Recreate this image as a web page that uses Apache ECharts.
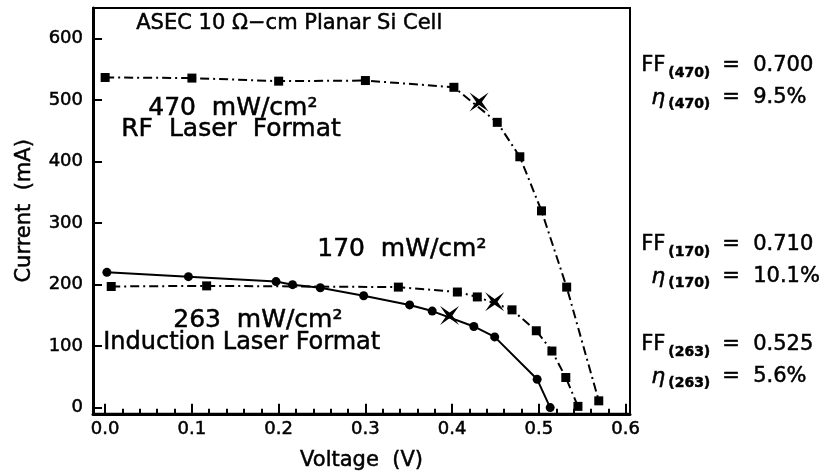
<!DOCTYPE html>
<html>
<head>
<meta charset="utf-8">
<script src="https://cdn.jsdelivr.net/npm/echarts@6/dist/echarts.min.js"></script>
<style>
  html, body { margin: 0; padding: 0; background: #fff; }
  #chart { width: 835px; height: 476px; }
</style>
</head>
<body>
<div id="chart"></div>
<script>
// 470 mW/cm2, RF laser format
const volt470 = [0.0, 0.1, 0.2, 0.3, 0.402, 0.452, 0.478, 0.503, 0.532, 0.569];
const curr470 = [537, 536, 531, 532, 521, 464, 408, 320, 196, 11];
// 170 mW/cm2
const volt170 = [0.007, 0.117, 0.338, 0.406, 0.429, 0.469, 0.497, 0.515, 0.531, 0.545];
const curr170 = [197, 198, 196, 188, 180, 159, 125, 92, 49, 2];
// 263 mW/cm2, induction laser format
const volt263 = [0.002, 0.096, 0.197, 0.216, 0.248, 0.298, 0.351, 0.377, 0.425, 0.449, 0.498, 0.513];
const curr263 = [220, 213, 205, 200, 195, 182, 167, 157, 132, 115, 46, 0];
// max power points (X marks)
const mppVolt = [0.431, 0.449, 0.397];
const mppCurr = [497, 172, 150];

const xTicks = [0, 0.1, 0.2, 0.3, 0.4, 0.5, 0.6];
const yTicks = [0, 100, 200, 300, 400, 500, 600];
const xMinorTicks = [];
for (let i = 0; i <= 30; i++) xMinorTicks.push(+(i * 0.02).toFixed(2));

const results = [
  { tag: '(470)', ff: '0.700', eta: '9.5%', y: 68 },
  { tag: '(170)', ff: '0.710', eta: '10.1%', y: 247 },
  { tag: '(263)', ff: '0.525', eta: '5.6%', y: 347 },
];

const FONT = 'DejaVu Sans';
const zip = (xs, ys) => xs.map((x, i) => [x, ys[i]]);
const dashDot = [9, 4, 2, 4];
const xMark = 'path://M0,0 L10,7 L20,0 L13,10 L20,20 L10,13 L0,20 L7,10 Z';
// thicken glyphs a little, the original is a plotter font
const ink = { textBorderColor: '#000', textBorderWidth: 0.5 };

const txt = (x, y, text, size, extra) => ({
  type: 'text', left: x, top: y,
  style: Object.assign({
    text, fontSize: size, fontFamily: FONT, fill: '#000', stroke: '#000', lineWidth: 0.5,
  }, extra || {}),
});

const graphics = [
  txt(136, 13, 'ASEC 10 Ω−cm Planar Si Cell', 21),
  txt(148, 96, '470  mW/cm²', 25),
  txt(121, 117, 'RF  Laser  Format', 25),
  txt(317, 237, '170  mW/cm²', 25),
  txt(173, 308, '263  mW/cm²', 25),
  txt(103, 331, 'Induction Laser Format', 24),
];
results.forEach((r) => {
  graphics.push(txt(641, r.y - 13, 'FF', 21));
  graphics.push(txt(668, r.y - 2, r.tag, 14, { fontWeight: 'bold' }));
  graphics.push(txt(722, r.y - 13, '=  ' + r.ff, 21));
  graphics.push(txt(651, r.y + 19, 'η', 22, { fontStyle: 'italic' }));
  graphics.push(txt(668, r.y + 29, r.tag, 14, { fontWeight: 'bold' }));
  graphics.push(txt(722, r.y + 19, '=  ' + r.eta, 21));
});

const chart = echarts.init(document.getElementById('chart'));
chart.setOption({
  animation: false,
  backgroundColor: '#fff',
  grid: {
    left: 93, right: 205, top: 8, bottom: 60,
    show: true, borderColor: '#000', borderWidth: 2,
  },
  xAxis: [
    {
      type: 'value', min: -0.014, max: 0.605,
      name: 'Voltage  (V)', nameLocation: 'middle', nameGap: 36,
      nameTextStyle: Object.assign({ fontSize: 21, fontFamily: FONT, color: '#000' }, ink),
      axisLine: { onZero: false, lineStyle: { color: '#000', width: 3 } },
      axisTick: { inside: true, length: 10, lineStyle: { color: '#000', width: 2 }, customValues: xTicks },
      axisLabel: Object.assign({
        customValues: xTicks, formatter: (v) => v.toFixed(1), margin: 7,
        fontSize: 18, fontFamily: FONT, color: '#000',
      }, ink),
      splitLine: { show: false },
    },
    {
      type: 'value', min: -0.014, max: 0.605, position: 'bottom',
      axisLine: { show: false, onZero: false },
      axisTick: { inside: true, length: 5, lineStyle: { color: '#000', width: 2 }, customValues: xMinorTicks },
      axisLabel: { show: false },
      splitLine: { show: false },
    },
  ],
  yAxis: {
    type: 'value', min: -10, max: 650,
    name: 'Current  (mA)', nameLocation: 'middle', nameGap: 58,
    nameTextStyle: Object.assign({ fontSize: 21, fontFamily: FONT, color: '#000' }, ink),
    axisLine: { onZero: false, lineStyle: { color: '#000', width: 3 } },
    axisTick: { inside: true, length: 9, lineStyle: { color: '#000', width: 2 }, customValues: yTicks },
    axisLabel: Object.assign({ customValues: yTicks, margin: 10, fontSize: 18, fontFamily: FONT, color: '#000' }, ink),
    splitLine: { show: false },
  },
  series: [
    {
      name: '470', type: 'line', data: zip(volt470, curr470),
      symbol: 'rect', symbolSize: 9, itemStyle: { color: '#000' },
      lineStyle: { color: '#000', width: 2, type: dashDot },
    },
    {
      name: '170', type: 'line', data: zip(volt170, curr170),
      symbol: 'rect', symbolSize: 9, itemStyle: { color: '#000' },
      lineStyle: { color: '#000', width: 2, type: dashDot },
    },
    {
      name: '263', type: 'line', data: zip(volt263, curr263),
      symbol: 'circle', symbolSize: 9, itemStyle: { color: '#000' },
      lineStyle: { color: '#000', width: 2 },
    },
    {
      name: 'mpp', type: 'scatter', data: zip(mppVolt, mppCurr),
      symbol: xMark, symbolSize: 19, itemStyle: { color: '#000', opacity: 1 },
    },
  ],
  graphic: graphics,
});
</script>
</body>
</html>
